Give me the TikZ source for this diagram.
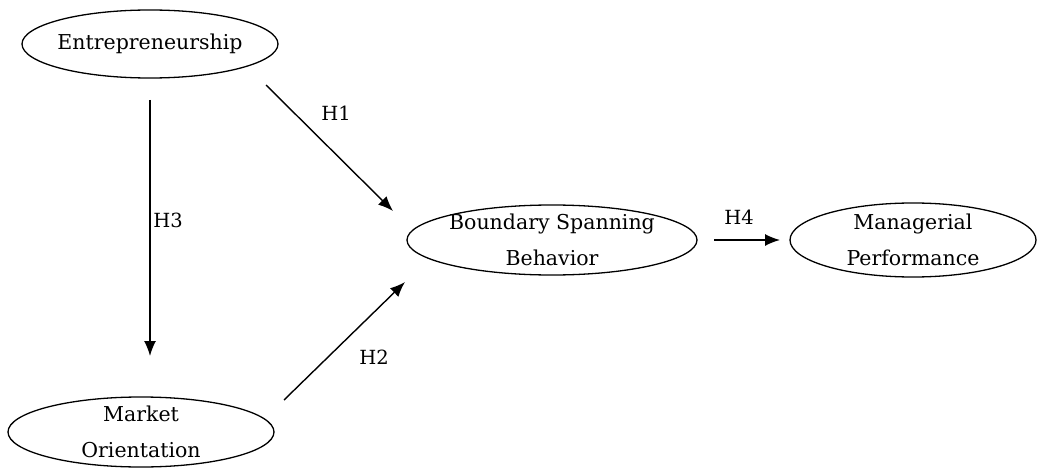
\documentclass[tikz,border=0pt]{standalone}
\usepackage{fontspec}
\setmainfont{DejaVu Serif}
\usetikzlibrary{shapes.geometric,arrows.meta}
\begin{document}
\begin{tikzpicture}[x=1pt,y=-1pt,
  construct/.style={draw, ellipse, line width=1.3pt, inner sep=0pt},
  caption/.style={align=center, inner sep=0pt, font=\fontsize{20.5}{36}\selectfont},
  link/.style={line width=1.4pt, -{Latex[length=15pt,width=12pt]}},
  hyp/.style={font=\fontsize{19.5}{22}\selectfont}]
\useasboundingbox (0,0) rectangle (1039,468);
% constructs: fixed-size ellipses with their titles centred inside
\node[construct, minimum width=256pt, minimum height=68pt] (ent) at (150,44) {};
\node[construct, minimum width=266pt, minimum height=70pt] (mo) at (141,432) {};
\node[construct, minimum width=290pt, minimum height=70pt] (bsb) at (552,240) {};
\node[construct, minimum width=246pt, minimum height=74pt] (mp) at (913,240) {};
\node[caption] (entT) at (ent.center) {Entrepreneurship};
\node[caption] (moT) at (mo.center) {Market\\Orientation};
\node[caption] (bsbT) at (bsb.center) {Boundary Spanning\\Behavior};
\node[caption] (mpT) at (mp.center) {Managerial\\Performance};
% arrow ends
\coordinate (h1s) at (266,85);
\coordinate (h1e) at (393,211);
\coordinate (h3s) at (150,100);
\coordinate (h3e) at (150,356);
\coordinate (h2s) at (284,400);
\coordinate (h2e) at (405,282);
\coordinate (h4s) at (714,240);
\coordinate (h4e) at (780,240);
% hypotheses
\draw[link] (h1s) -- (h1e);
\draw[link] (h3s) -- (h3e);
\draw[link] (h2s) -- (h2e);
\draw[link] (h4s) -- (h4e);
\node[hyp] (l1) at (336,113) {H1};
\node[hyp] (l3) at (168,220) {H3};
\node[hyp] (l2) at (374,357) {H2};
\node[hyp] (l4) at (739,217) {H4};
\end{tikzpicture}
\end{document}
